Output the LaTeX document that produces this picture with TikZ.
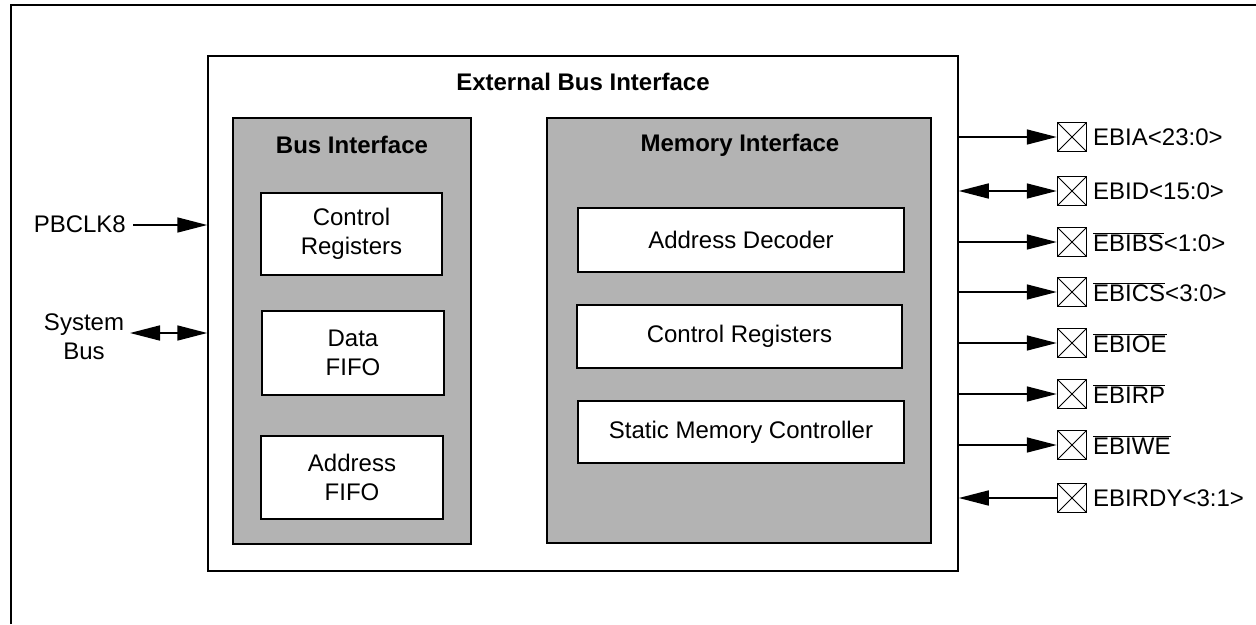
\documentclass[tikz,border=0pt]{standalone}
\usepackage{fontspec}
\setmainfont{Liberation Sans}
\usetikzlibrary{arrows.meta,calc}
\definecolor{boxgrey}{RGB}{179,179,179}
\begin{document}
\begin{tikzpicture}[x=1pt,y=-1pt,
  font=\fontsize{24}{28.8}\selectfont,
  >={Triangle[length=30pt,width=15pt]},
  blk/.style={draw, line width=1.5pt, inner sep=0pt},
  greyblk/.style={blk, fill=boxgrey},
  whiteblk/.style={blk, fill=white, align=center},
  ttl/.style={font=\fontsize{24}{28.8}\selectfont\bfseries},
  pad/.style={draw, line width=1.5pt, minimum size=29pt, inner sep=0pt,
    path picture={\draw[line width=0.8pt]
      (path picture bounding box.north west) -- (path picture bounding box.south east)
      (path picture bounding box.north east) -- (path picture bounding box.south west);}},
  padlbl/.style={anchor=west, inner sep=0pt},
  sig/.style={line width=1.6pt}
]
\useasboundingbox (0,0) rectangle (1256,624);
% frame
\draw[line width=2pt] (11,624) -- (11,5) -- (1256,5);

% blocks
\node[blk, minimum width=750pt, minimum height=515pt] (ebi) at (583,313.5) {};
\node[ttl] (ebit) at (583,82) {External Bus Interface};

\node[greyblk, minimum width=238pt, minimum height=426pt] (bus) at (352,331) {};
\node[ttl] (bust) at (352,145) {Bus Interface};
\node[whiteblk, minimum width=181pt, minimum height=82pt] (ctl) at (351.5,234) {Control\\Registers};
\node[whiteblk, minimum width=182pt, minimum height=84pt] (dfifo) at (353,353) {Data\\FIFO};
\node[whiteblk, minimum width=182pt, minimum height=83pt] (afifo) at (352,477.5) {Address\\FIFO};

\node[greyblk, minimum width=384pt, minimum height=425pt] (mem) at (739,330.5) {};
\node[ttl] (memt) at (740,145) {Memory Interface};
\node[whiteblk, minimum width=326pt, minimum height=64pt] (adec) at (741,240) {Address Decoder};
\node[whiteblk, minimum width=325pt, minimum height=63pt] (mctl) at (739.5,336.5) {Control Registers};
\node[whiteblk, minimum width=326pt, minimum height=62pt] (smc) at (741,432) {Static Memory Controller};

% left signals
\node[anchor=east, inner sep=0pt] (pbclk) at (126,224) {PBCLK8};
\coordinate (pbA) at (133,225);
\draw[sig,->] (pbA) -- (ebi.west |- pbA);
\node[align=center] (sysbus) at (84,337) {System\\Bus};
\coordinate (sbA) at (130,333);
\draw[sig,<->] (sbA) -- (ebi.west |- sbA);

% right pads
\node[pad] (pA) at (1072,137) {};
\node[padlbl] (lA) at (1093,137) {EBIA<23:0>};
\node[pad] (pD) at (1072,191) {};
\node[padlbl] (lD) at (1093,191) {EBID<15:0>};
\node[pad] (pBS) at (1072,242) {};
\node[padlbl] (lBS) at (1093,242) {$\overline{\mbox{EBIBS}}$<1:0>};
\node[pad] (pCS) at (1072,292) {};
\node[padlbl] (lCS) at (1093,292) {$\overline{\mbox{EBICS}}$<3:0>};
\node[pad] (pOE) at (1072,343) {};
\node[padlbl] (lOE) at (1093,343) {$\overline{\mbox{EBIOE}}$};
\node[pad] (pRP) at (1072,394) {};
\node[padlbl] (lRP) at (1093,394) {$\overline{\mbox{EBIRP}}$};
\node[pad] (pWE) at (1072,445) {};
\node[padlbl] (lWE) at (1093,445) {$\overline{\mbox{EBIWE}}$};
\node[pad] (pRDY) at (1072,498) {};
\node[padlbl] (lRDY) at (1093,498) {EBIRDY<3:1>};

\draw[sig,->] (ebi.east |- pA) -- (pA.west);
\draw[sig,<->] (ebi.east |- pD) -- (pD.west);
\draw[sig,->] (ebi.east |- pBS) -- (pBS.west);
\draw[sig,->] (ebi.east |- pCS) -- (pCS.west);
\draw[sig,->] (ebi.east |- pOE) -- (pOE.west);
\draw[sig,->] (ebi.east |- pRP) -- (pRP.west);
\draw[sig,->] (ebi.east |- pWE) -- (pWE.west);
\draw[sig,->] (pRDY.west) -- (ebi.east |- pRDY);
\end{tikzpicture}
\end{document}
